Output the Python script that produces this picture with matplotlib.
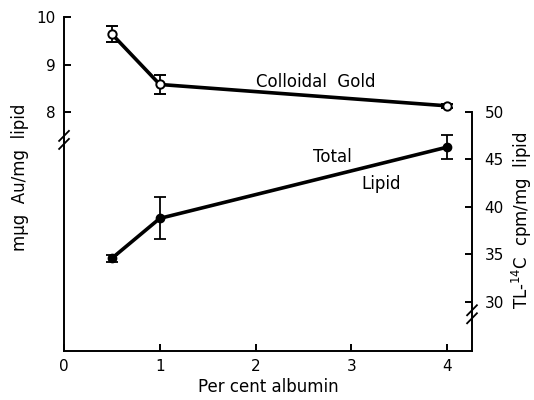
import matplotlib.pyplot as plt

# per cent albumin
albumin = [0.5, 1, 4]

# colloidal gold, m-ug Au / mg lipid (left axis)
gold = [9.64, 8.58, 8.13]
gold_err = [0.17, 0.2, 0.04]

# total lipid, TL-14C cpm / mg lipid (right axis)
lipid = [34.6, 38.8, 46.3]
lipid_err = [0.35, 2.2, 1.25]

plt.rcParams['font.family'] = ['DejaVu Sans']
plt.rcParams['font.size'] = 11

fig = plt.figure(figsize=(5.34, 4.0), dpi=100)
ax = fig.add_axes([0.1199, 0.1225, 0.764, 0.835])
ax2 = ax.twinx()
ax2.set_position([0.1199, 0.1225, 0.764, 0.835])

ax.set_xlim(0, 4.26)
ax.set_ylim(2.97, 10)
ax2.set_ylim(24.84, 60)

# colloidal gold
ax.errorbar(albumin, gold, yerr=gold_err, color='black', lw=2.6, marker='o',
            ms=6, mfc='white', mec='black', mew=1.4, capsize=4, elinewidth=1.3,
            capthick=1.3, clip_on=False, zorder=3)
# total lipid
ax2.errorbar(albumin, lipid, yerr=lipid_err, color='black', lw=2.6, marker='o',
             ms=6, mfc='black', mec='black', capsize=4, elinewidth=1.3,
             capthick=1.3, clip_on=False, zorder=3)

# spines
for s in ['top', 'right']:
    ax.spines[s].set_visible(False)
for s in ['top', 'left', 'bottom']:
    ax2.spines[s].set_visible(False)
for sp in [ax.spines['left'], ax.spines['bottom'], ax2.spines['right']]:
    sp.set_linewidth(1.4)
ax.spines['bottom'].set_bounds(0, 4.26)
ax2.spines['right'].set_bounds(24.84, 50)

ax.set_xticks([0, 1, 2, 3, 4])
ax.set_yticks([8, 9, 10])
ax2.set_yticks([30, 35, 40, 45, 50])
ax.tick_params(direction='in', length=5, width=1.4, pad=6)
ax2.tick_params(direction='in', length=5, width=1.4, pad=9)

# axis break marks
kw = dict(color='black', lw=1.3, clip_on=False, transform=ax.transAxes)
for dy in (-0.012, 0.012):
    ax.plot([-0.012, 0.012], [0.632 + dy - 0.015, 0.632 + dy + 0.015], **kw)
for dy in (-0.012, 0.012):
    ax.plot([0.988, 1.012], [0.11 + dy - 0.015, 0.11 + dy + 0.015], **kw)

ax.set_xlabel('Per cent albumin', fontsize=12, labelpad=3)
ax.set_ylabel('m\u03bcg  Au/mg  lipid', fontsize=12, va='center')
ax.yaxis.set_label_coords(-0.108, 0.52)
ax2.set_ylabel('TL-$^{14}$C  cpm/mg  lipid', fontsize=12, va='center',
               rotation=90)
ax2.yaxis.set_label_coords(1.122, 0.39)

ax.text(2.0, 8.63, 'Colloidal  Gold', fontsize=12, ha='left', va='center')
ax2.text(2.6, 45.3, 'Total', fontsize=12, ha='left', va='center')
ax2.text(3.1, 42.4, 'Lipid', fontsize=12, ha='left', va='center')

fig.savefig('out.png', dpi=100)
